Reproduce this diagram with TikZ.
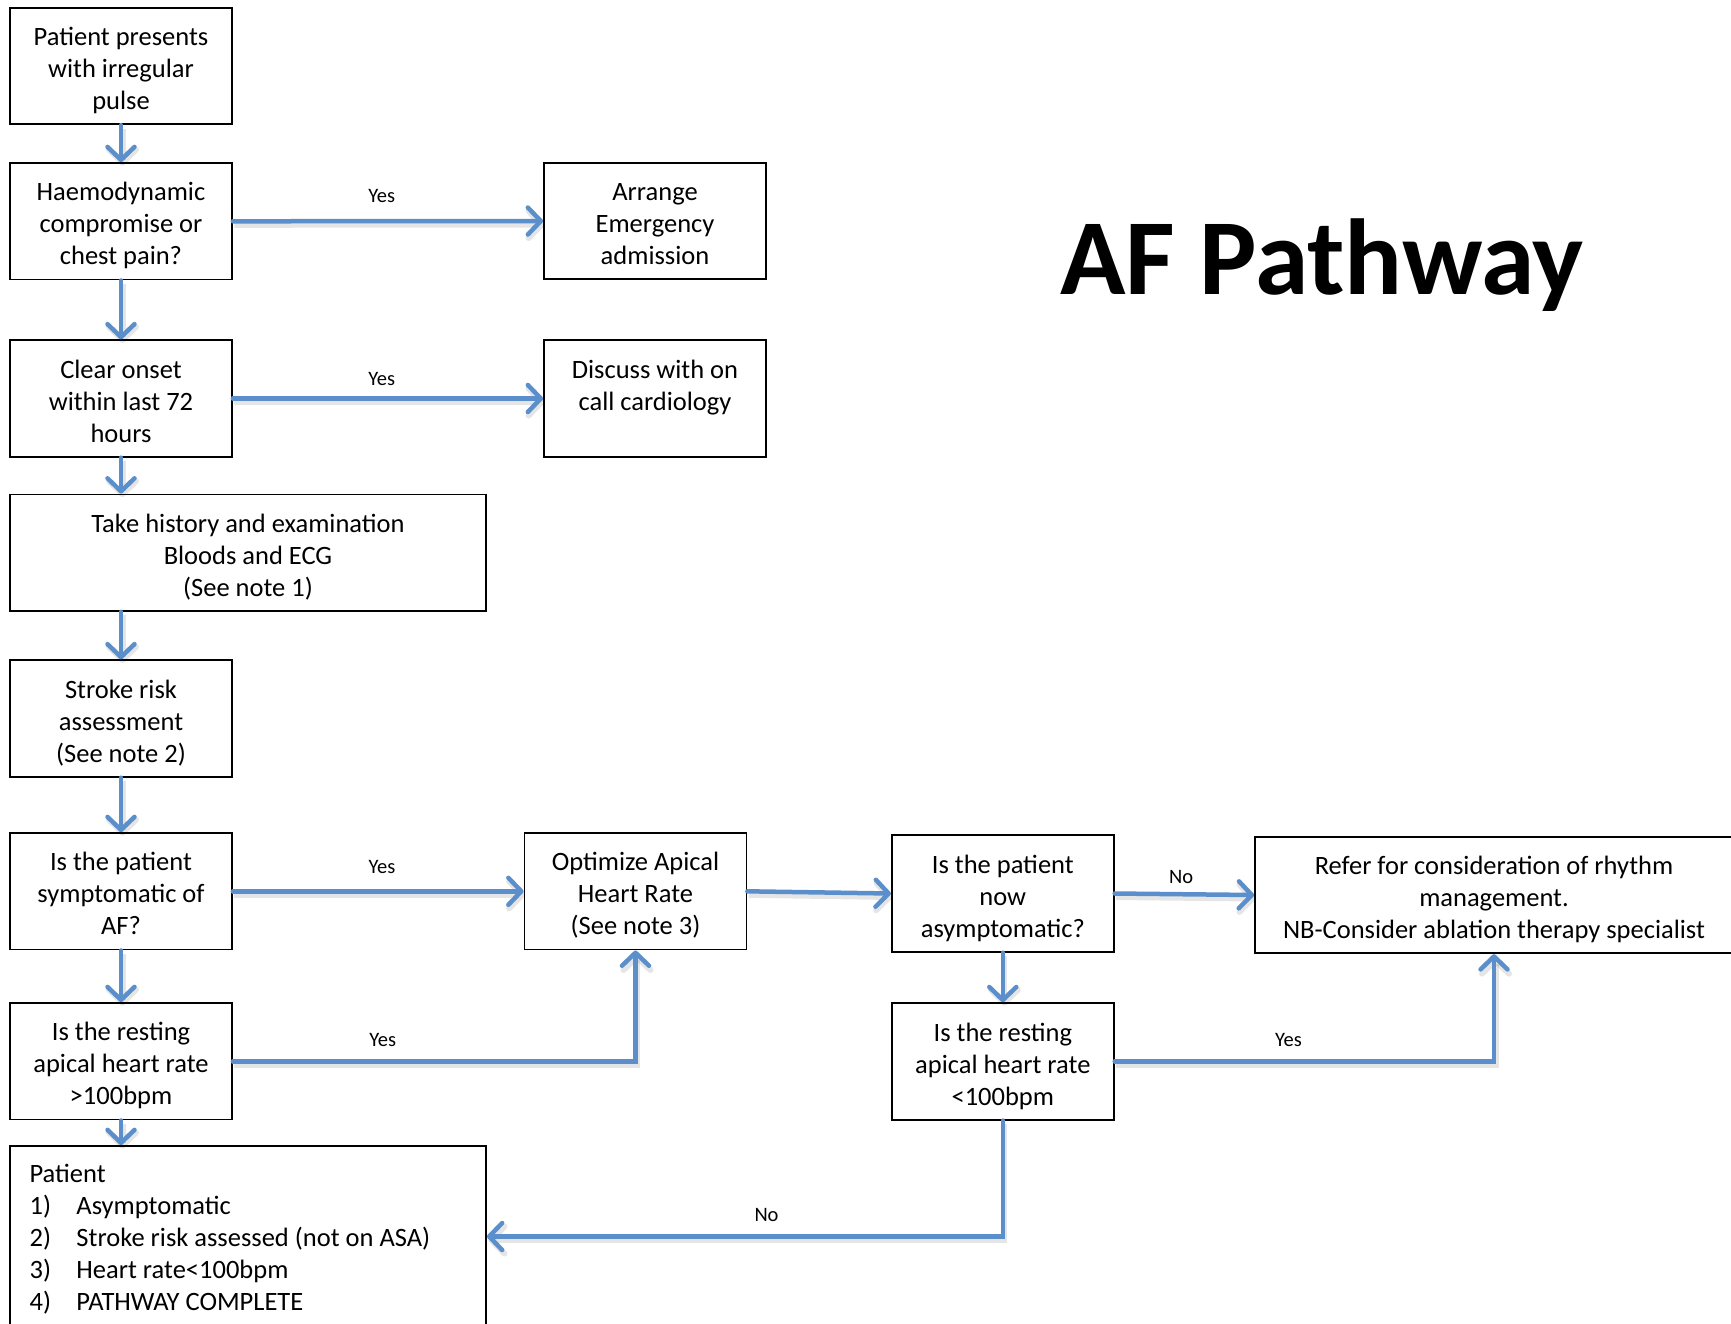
\documentclass[tikz,border=0pt]{standalone}
\usepackage{fontspec}
\setmainfont{Carlito}
\usetikzlibrary{arrows.meta,calc}
\definecolor{flowblue}{RGB}{91,143,203}
\newcommand{\listline}[2]{\makebox[436.8pt][l]{\makebox[46.9pt][l]{#1}#2}}
\newcommand{\three}[3]{\rule{0pt}{32.5pt}#1\\#2\\#3\rule[-9.2pt]{0pt}{9.2pt}}
\begin{document}
\begin{tikzpicture}[x=1pt,y=1pt,
  box/.style={draw=black, line width=1.8pt, minimum width=222pt, minimum height=116.5pt,
    inner sep=0pt, align=center, font=\fontsize{26.5}{32}\selectfont},
  wide/.style={box, minimum width=476pt},
  conn/.style={draw=flowblue, line width=4.5pt, line cap=round,
    -{Straight Barb[length=13pt,width=27pt,line cap=round,line join=round]},
    preaction={draw=black, opacity=0.10, line width=6pt,
      transform canvas={shift={(1.5pt,-3.5pt)}}}},
  lbl/.style={font=\fontsize{20.5}{24}\selectfont, inner sep=0pt, text=black}]
\useasboundingbox (0,0) rectangle (1731,-1323);
\clip (0,0) rectangle (1731,-1323);

% title
\node[anchor=base west, inner sep=0pt, font=\fontsize{108}{120}\selectfont\bfseries] (title) at (1060,-294) {AF Pathway};

% boxes
\node[box] (b1) at (121,-66) {\three{Patient presents}{with irregular}{pulse}};
\node[box] (b2) at (121,-221.3) {\three{Haemodynamic}{compromise or}{chest pain?}};
\node[box] (arr) at (655,-221) {\three{Arrange}{Emergency}{admission}};
\node[box] (b3) at (121,-398.5) {\three{Clear onset}{within last 72}{hours}};
\node[box] (disc) at (655,-398.5) {\three{Discuss with on}{call cardiology}{\mbox{}}};
\node[wide] (b4) at (248,-552.7) {\three{Take history and examination}{Bloods and ECG}{(See note 1)}};
\node[box] (b5) at (121,-718.5) {\three{Stroke risk}{assessment}{(See note 2)}};
\node[box] (b6) at (121,-891.3) {\three{Is the patient}{symptomatic of}{AF?}};
\node[box] (opt) at (635.5,-891.3) {\three{Optimize Apical}{Heart Rate}{(See note 3)}};
\node[box] (b9) at (1002.8,-893.5) {\three{Is the patient}{now}{asymptomatic?}};
\node[wide, minimum width=478pt] (ref) at (1494,-895) {\three{Refer for consideration of rhythm}{management.}{NB-Consider ablation therapy specialist}};
\node[box] (b7) at (121,-1061.3) {\three{Is the resting}{apical heart rate}{>100bpm}};
\node[box] (b10) at (1002.8,-1061.4) {\three{Is the resting}{apical heart rate}{<100bpm}};
\node[draw=black, line width=1.8pt, anchor=north west, inner xsep=19.6pt, inner ysep=13.6pt,
  align=left, font=\fontsize{26.5}{32}\selectfont] (b8) at (9.1,-1145.1)
  {\strut\makebox[436.8pt][l]{Patient}\\
   \listline{1)}{Asymptomatic}\\
   \listline{2)}{Stroke risk assessed (not on ASA)}\\
   \listline{3)}{Heart rate<100bpm}\\
   \listline{4)}{PATHWAY COMPLETE}\strut};

% connectors
\draw[conn] (b1) -- (b2);
\draw[conn] (b2.east) -- node[lbl, pos=0.48, yshift=24.8pt] {Yes} (arr.west);
\draw[conn] (b2) -- (b3);
\draw[conn] (b3.east) -- node[lbl, pos=0.48, yshift=19.8pt] {Yes} (disc.west);
\draw[conn] (b3.south) -- (b3.south |- b4.north);
\draw[conn] (b4.south -| b5.north) -- (b5.north);
\draw[conn] (b5) -- (b6);
\draw[conn] (b6) -- (b7);
\draw[conn] (b7.south) -- (b7.south |- b8.north);
\draw[conn] (b6.east) -- node[lbl, pos=0.513, yshift=24.7pt] {Yes} (opt.west);
\draw[conn] (b7.east) -| node[lbl, pos=0.186, yshift=21pt] {Yes} (opt.south);
\draw[conn] (opt.east) -- (b9.west);
\draw[conn] (b9.east) -- node[lbl, pos=0.477, yshift=17.4pt] {No} (ref.west);
\draw[conn] (b9) -- (b10);
\draw[conn] (b10.east) -| node[lbl, pos=0.229, yshift=21pt] {Yes} (ref.south);
\draw[conn] (b10.south) |- node[lbl, pos=0.729, yshift=22pt] {No} ($(b8.north east)+(0,-91.4)$);
\end{tikzpicture}
\end{document}
